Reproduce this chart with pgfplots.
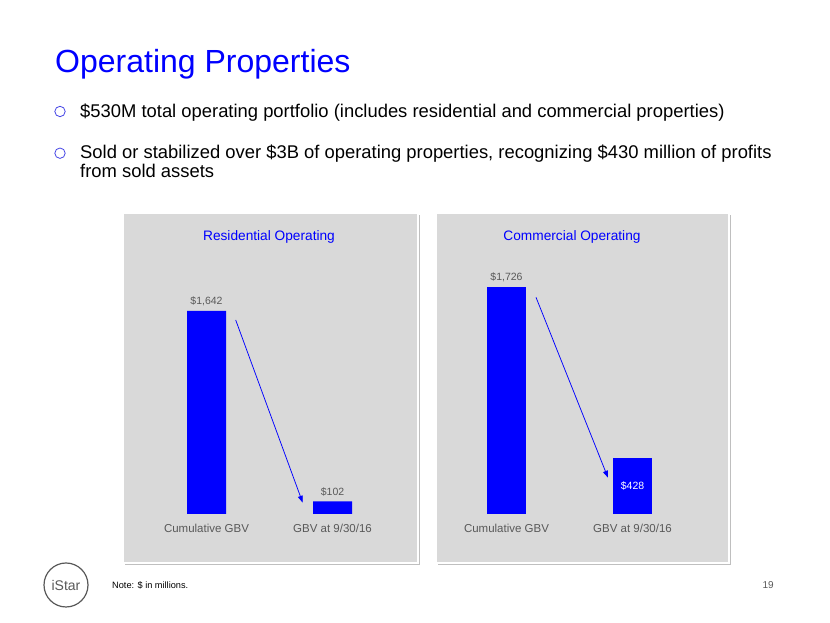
\documentclass[border=0pt]{standalone}
\usepackage{pgfplots}
\pgfplotsset{compat=1.18}
\usepackage{fontspec}
\setmainfont{Liberation Sans}
\usetikzlibrary{arrows.meta}
\definecolor{ibl}{RGB}{0,0,255}
\definecolor{bul}{RGB}{70,70,230}
\definecolor{pgray}{RGB}{217,217,217}
\definecolor{tgray}{RGB}{89,89,89}
\newcommand{\fs}[1]{\fontsize{#1bp}{#1bp}\selectfont}
\pgfplotsset{panel/.style={
  anchor=south west, scale only axis, width=252bp, height=264bp,
  xmin=-0.5, xmax=1.5, ymin=0,
  axis line style={draw=none}, ytick=\empty, xtick={0,1},
  xticklabels={Cumulative GBV, GBV at 9/30/16},
  major tick length=0pt,
  xticklabel style={font=\fs{11.5}, text=tgray, yshift=-7bp},
  clip=false, ybar, bar width=39bp, bar shift=0pt,
  nodes near coords style={font=\fs{10.5}, text=tgray, anchor=south, yshift=1.8bp},
}}
\begin{document}
\begin{tikzpicture}[x=1bp,y=1bp]
\useasboundingbox (0,0) rectangle (830,623);
\fill[white] (0,0) rectangle (830,623);
% title
\node[anchor=base west, text=ibl, inner sep=0] at (55,550) {\fs{32}Operating Properties};
% bullets
\draw[bul, line width=0.8] (60,511.5) circle (5.2);
\node[anchor=base west, inner sep=0] at (80,505.5) {\fs{18.4}\$530M total operating portfolio (includes residential and commercial properties)};
\draw[bul, line width=0.8] (60,469.8) circle (5.2);
\node[anchor=base west, inner sep=0] at (80,464.5) {\fs{18.4}Sold or stabilized over \$3B of operating properties, recognizing \$430 million of profits};
\node[anchor=base west, inner sep=0] at (80,445) {\fs{18.4}from sold assets};
% panels
\fill[black!25] (125,58) rectangle (420,408);
\fill[pgray] (123,60) rectangle (418,410);
\draw[white, line width=1.5] (123,60) rectangle (418,410);
\fill[black!25] (438,58) rectangle (731,408);
\fill[pgray] (436,60) rectangle (729,410);
\draw[white, line width=1.5] (436,60) rectangle (729,410);
\node[text=ibl] at (269,386) {\fs{13.7}Residential Operating};
\node[text=ibl] at (572,386) {\fs{13.7}Commercial Operating};
% left chart
\begin{axis}[panel, at={(143.5bp,109bp)}, ymax=2135]
\addplot[fill=ibl, draw=none, nodes near coords, point meta=explicit symbolic]
  coordinates {(0,1642) [\$1,642] (1,102) [\$102]};
\end{axis}
% right chart
\begin{axis}[panel, at={(443.5bp,109bp)}, ymax=2007]
\addplot[fill=ibl, draw=none, nodes near coords, point meta=explicit symbolic]
  coordinates {(0,1726) [\$1,726]};
\addplot[fill=ibl, draw=none] coordinates {(1,428)};
\node[text=white, font=\fs{10.5}] at (axis cs:1,214) {\$428};
\end{axis}
% arrows
\draw[ibl, line width=0.75, -{Triangle[length=7,width=5]}] (235.7,303) -- (302.7,120.3);
\draw[ibl, line width=0.75, -{Triangle[length=7,width=5]}] (536,325.7) -- (608,145.3);
% footer
\draw[tgray, line width=1.2] (66,38) circle (22);
\node[text=tgray] at (66,38) {\fs{14}iStar};
\node[anchor=west, inner sep=0] at (112,38) {\fs{9.2}Note: \$ in millions.};
\node[anchor=east, text=tgray, inner sep=0] at (774,37.5) {\fs{10}19};
\end{tikzpicture}
\end{document}
